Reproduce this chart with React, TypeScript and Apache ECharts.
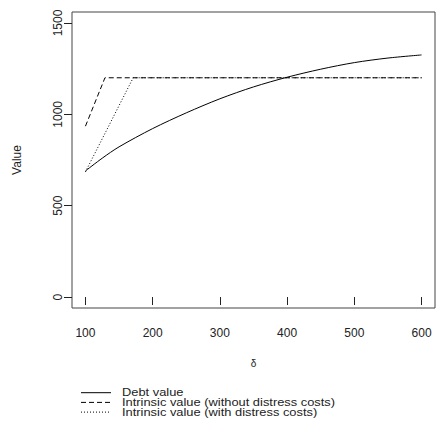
import React, { useEffect, useRef } from "react";
import * as echarts from "echarts";

const xTicks = [100, 200, 300, 400, 500, 600];
const yTicks = [0, 500, 1000, 1500];

const debtDelta = [100, 125, 150, 200, 250, 300, 350, 400, 450, 500, 550, 600];
const debtValue = [690, 760, 822, 922, 1008, 1085, 1150, 1203, 1247, 1283, 1308, 1325];

const noDistressDelta = [100, 129, 600];
const noDistressValue = [935, 1200, 1200];

const distressDelta = [100, 171, 600];
const distressValue = [685, 1200, 1200];

const names = [
  "Debt value",
  "Intrinsic value (without distress costs)",
  "Intrinsic value (with distress costs)",
];
const dashes: any[] = ["solid", [5, 3], [1, 2]];

const FONT = "'Liberation Sans', Arial, sans-serif";

const zip = (xs: number[], ys: number[]) => xs.map((x, i) => [x, ys[i]]);

export default function App() {
  const ref = useRef<HTMLDivElement>(null);
  useEffect(() => {
    const chart = echarts.init(ref.current!, null, { renderer: "svg" });
    const legendGraphics: any[] = [];
    names.forEach((n, i) => {
      const y = 392.7 + i * 9.7;
      legendGraphics.push({
        type: "line",
        shape: { x1: 81, y1: y, x2: 111, y2: y },
        style: { stroke: "#000", lineWidth: 1, lineDash: dashes[i] === "solid" ? null : dashes[i] },
      });
      legendGraphics.push({
        type: "text",
        x: 122,
        y: y,
        scaleX: 1.17,
        style: {
          text: n,
          fontSize: 11,
          lineHeight: 9,
          fontFamily: FONT,
          fill: "#222",
          verticalAlign: "middle",
          align: "left",
        },
      });
    });
    chart.setOption({
      animation: false,
      backgroundColor: "#fff",
      textStyle: { fontFamily: FONT },
      grid: {
        left: 72,
        top: 12,
        right: 2,
        height: 296,
        show: true,
        borderColor: "#444",
        borderWidth: 1,
        backgroundColor: "transparent",
      },
      xAxis: {
        type: "value",
        min: 80,
        max: 620,
        name: "δ",
        nameLocation: "middle",
        nameGap: 50,
        nameTextStyle: { fontSize: 10, color: "#222", fontFamily: FONT },
        axisLine: { show: false },
        splitLine: { show: false },
        axisTick: {
          show: true,
          length: 8,
          customValues: xTicks,
          lineStyle: { color: "#222", width: 1 },
        },
        axisLabel: {
          customValues: xTicks,
          margin: 19,
          fontSize: 12,
          color: "#222",
          fontFamily: FONT,
          formatter: (v: number) => String(v),
        },
      },
      yAxis: {
        type: "value",
        min: -60,
        max: 1560,
        name: "Value",
        nameLocation: "middle",
        nameGap: 49,
        nameRotate: 90,
        nameTextStyle: { fontSize: 12, color: "#222", fontFamily: FONT },
        axisLine: { show: false },
        splitLine: { show: false },
        axisTick: {
          show: true,
          length: 8,
          customValues: yTicks,
          lineStyle: { color: "#222", width: 1 },
        },
        axisLabel: {
          customValues: yTicks,
          rotate: 90,
          margin: 14,
          fontSize: 12,
          color: "#222",
          fontFamily: FONT,
          verticalAlign: "middle",
          formatter: (v: number) => String(v),
        },
      },
      graphic: legendGraphics,
      series: [
        {
          name: names[0],
          type: "line",
          data: zip(debtDelta, debtValue),
          smooth: 0.3,
          symbol: "none",
          showSymbol: false,
          lineStyle: { color: "#000", width: 1, type: "solid" },
          itemStyle: { color: "#000" },
        },
        {
          name: names[1],
          type: "line",
          data: zip(noDistressDelta, noDistressValue),
          symbol: "none",
          showSymbol: false,
          lineStyle: { color: "#000", width: 1, type: dashes[1] },
          itemStyle: { color: "#000" },
        },
        {
          name: names[2],
          type: "line",
          data: zip(distressDelta, distressValue),
          symbol: "none",
          showSymbol: false,
          lineStyle: { color: "#000", width: 1, type: dashes[2] },
          itemStyle: { color: "#000" },
        },
      ],
    });
    return () => chart.dispose();
  }, []);
  return (
    <div
      ref={ref}
      style={{ position: "absolute", left: 0, top: 0, width: 437, height: 433 }}
    />
  );
}
